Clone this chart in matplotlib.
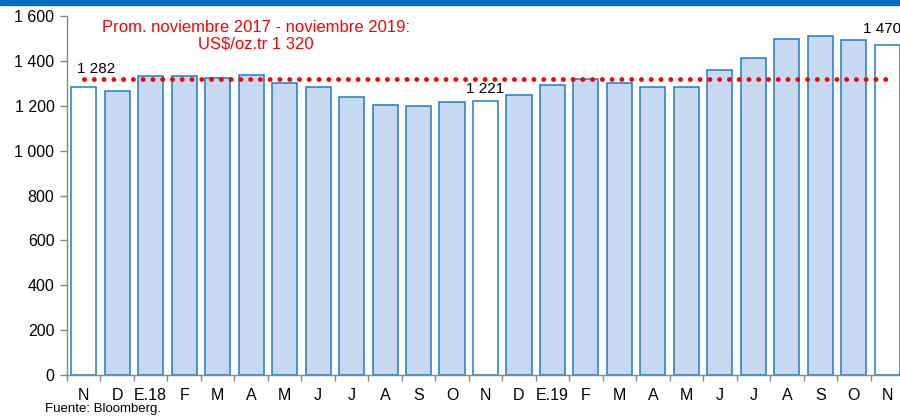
import matplotlib
matplotlib.use('agg')
import matplotlib.pyplot as plt
import numpy as np

plt.rcParams['font.family'] = ['Liberation Sans', 'DejaVu Sans']

months = ['N', 'D', 'E.18', 'F', 'M', 'A', 'M', 'J', 'J', 'A', 'S', 'O',
          'N', 'D', 'E.19', 'F', 'M', 'A', 'M', 'J', 'J', 'A', 'S', 'O', 'N']
prices = [1282, 1265, 1331, 1331, 1325, 1335, 1303, 1282, 1238, 1202, 1199, 1215,
          1221, 1250, 1292, 1320, 1301, 1285, 1284, 1359, 1413, 1497, 1511, 1495, 1470]
highlight = [0, 12, 24]
average = 1320

fig = plt.figure(figsize=(9, 4.16), dpi=100)
ax = fig.add_axes([67/900, 41/416, 837/900, 359/416])

x = np.arange(len(prices))
colors = ['white' if i in highlight else '#C6D9F0' for i in x]
ax.bar(x, prices, width=0.75, color=colors, edgecolor='#1F7BC8', linewidth=1.1, zorder=2)

ax.plot([x[0], x[-1]], [average, average], linestyle=(0, (0.01, 2.0)), color='#FF0000',
        linewidth=3.5, dash_capstyle='round', zorder=3)

ax.text(x[0] - 0.2, 1333, '1 282', fontsize=11, ha='left', va='bottom')
ax.text(x[12], prices[12] + 22, '1 221', fontsize=11, ha='center', va='bottom')
ax.text(x[24] + 0.42, prices[24] + 42, '1 470', fontsize=11, ha='right', va='bottom')

ax.text(5.15, 1580, 'Prom. noviembre 2017 - noviembre 2019:\nUS$/oz.tr 1 320', color='#FF0000',
        fontsize=12, ha='center', va='top', linespacing=1.1)

ax.set_xlim(-0.5, 24.5)
ax.set_ylim(0, 1600)
ax.set_yticks(np.arange(0, 1601, 200))
ax.set_yticklabels([f'{v:,}'.replace(',', ' ') for v in range(0, 1601, 200)], fontsize=11.5)
ax.set_xticks(x)
ax.set_xticklabels(months, fontsize=11.5)
ax.set_xticks(np.arange(-0.5, 25, 1), minor=True)
ax.tick_params(axis='x', which='major', length=0, pad=9)
ax.tick_params(axis='x', which='minor', length=4, color='#888888', width=1)
ax.tick_params(axis='y', length=5, color='#888888', width=1, pad=4)

for s in ['top', 'right']:
    ax.spines[s].set_visible(False)
for s in ['left', 'bottom']:
    ax.spines[s].set_color('#888888')
    ax.spines[s].set_linewidth(1)

fig.patches.append(plt.Rectangle((0, 1 - 5/416), 1, 5/416, transform=fig.transFigure,
                                 color='#0070C0', zorder=5))
fig.text(45/900, 1/416, 'Fuente: Bloomberg.', fontsize=9.5, ha='left', va='bottom')

plt.savefig('out.png', dpi=100)
plt.close()
